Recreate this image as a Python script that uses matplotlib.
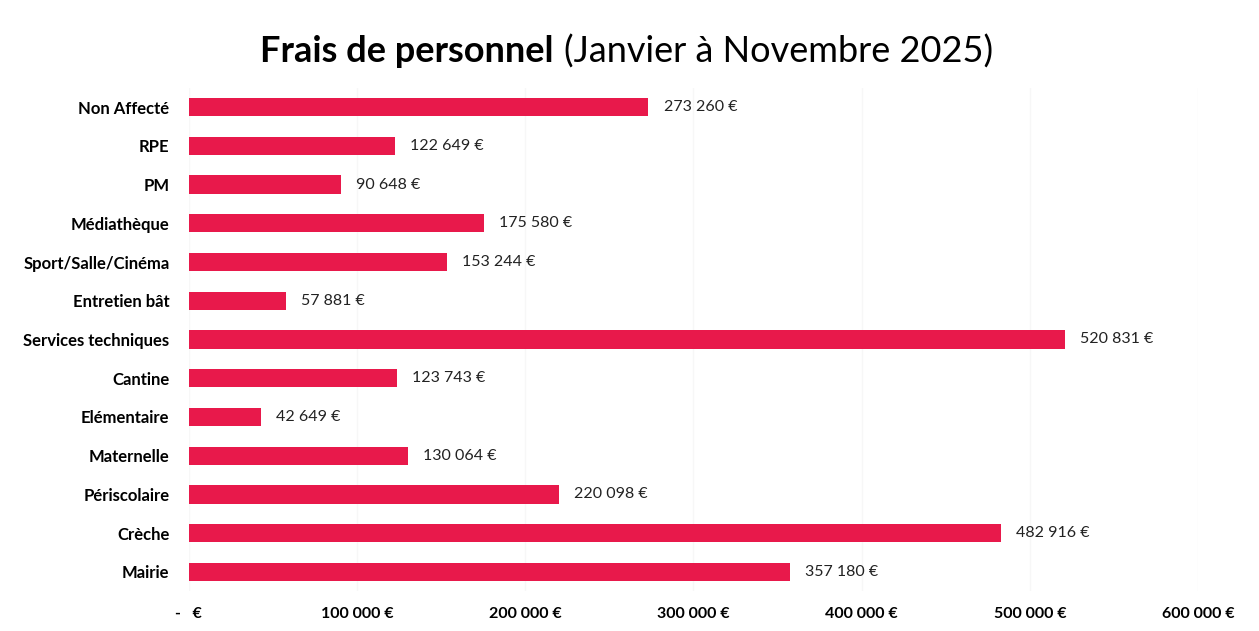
import matplotlib.pyplot as plt
import numpy as np

# data (top to bottom)
categories = ['Non Affecté', 'RPE', 'PM', 'Médiathèque', 'Sport/Salle/Cinéma',
              'Entretien bât', 'Services techniques', 'Cantine', 'Elémentaire',
              'Maternelle', 'Périscolaire', 'Crèche', 'Mairie']
values = [273260, 122649, 90648, 175580, 153244, 57881, 520831, 123743,
          42649, 130064, 220098, 482916, 357180]
ticks = [0, 100000, 200000, 300000, 400000, 500000, 600000]

FONT = ['Lato', 'DejaVu Sans']
bar_color = '#E8194B'


def fmt(v):
    return '{:,}'.format(v).replace(',', ' ') + ' €'


fig = plt.figure(figsize=(12.59, 6.31), dpi=100)
ax = fig.add_axes([0.150, 0.063, 0.8015, 0.798])

y = np.arange(len(categories))
ax.barh(y, values, height=0.47, color=bar_color, zorder=2)
ax.set_ylim(len(categories) - 0.5, -0.5)
ax.set_xlim(0, 600000)

for yi, v in zip(y, values):
    ax.text(v + 9000, yi, fmt(v), va='center', ha='left',
            fontsize=11.5, family=FONT, color='#222222')

ax.set_yticks(y)
ax.set_yticklabels(categories, family=FONT, fontweight='bold', fontsize=12)
ax.set_xticks(ticks)
ax.set_xticklabels(['-   €'] + [fmt(t) for t in ticks[1:]],
                   family=FONT, fontweight='bold', fontsize=11.5)
ax.tick_params(length=0)
ax.tick_params(axis='x', pad=11)
ax.tick_params(axis='y', pad=14)
ax.grid(axis='x', color='#f7f7f7', linewidth=1, zorder=0)
for s in ax.spines.values():
    s.set_visible(False)

# title: bold part + normal part, placed side by side
t1 = fig.text(0.2065, 0.918, 'Frais de personnel', fontsize=26, fontweight='bold',
              family=FONT, va='center', ha='left')
fig.canvas.draw()
bb = t1.get_window_extent(fig.canvas.get_renderer())
x2 = bb.x1 / fig.bbox.width + 0.008
fig.text(x2, 0.918, '(Janvier à Novembre 2025)', fontsize=26,
         family=FONT, va='center', ha='left')

fig.savefig('out.png', dpi=100)
